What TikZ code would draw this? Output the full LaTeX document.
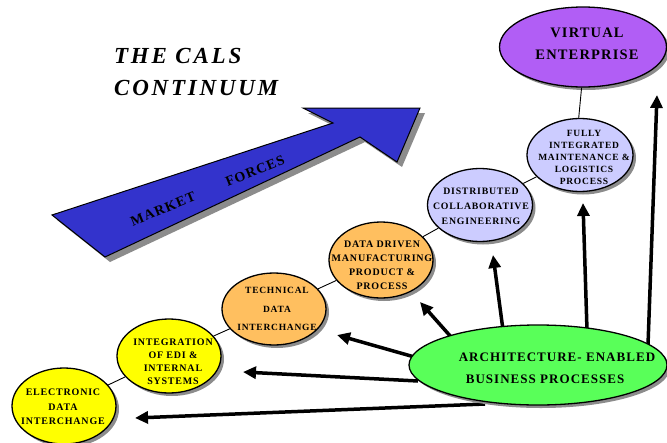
\documentclass[tikz,border=0pt]{standalone}
\usepackage{fontspec}
\setmainfont{Liberation Serif}
\newfontfamily\lsp{Liberation Serif}[LetterSpace=8]
\newfontfamily\tsp{Liberation Serif}[LetterSpace=12]
\usetikzlibrary{shadows,arrows.meta,shapes.geometric}
\definecolor{cyel}{HTML}{FFFF00}
\definecolor{corg}{HTML}{FFBF5F}
\definecolor{clav}{HTML}{CCCCFF}
\definecolor{cpur}{HTML}{B15EF5}
\definecolor{cgrn}{HTML}{59FF59}
\definecolor{cblu}{HTML}{3333CC}
\definecolor{cshd}{HTML}{8C8C8C}
\tikzset{
  bub/.style={ellipse, draw, line width=1.3pt, inner sep=0pt,
    drop shadow={shadow xshift=3pt, shadow yshift=-3pt, fill=cshd, opacity=1}},
  txt/.style={align=center, inner sep=0pt, font=\lsp\bfseries\fontsize{#1}{#1}\selectfont},
  link/.style={line width=0.9pt},
  arr/.style={line width=3.5pt, -{Triangle[length=13pt,width=12pt]}},
  mf/.style={font=\lsp\bfseries\fontsize{14}{14}\selectfont, rotate=22, inner sep=0pt}
}
\begin{document}
\begin{tikzpicture}[x=1pt,y=-1pt]
\useasboundingbox (0,0) rectangle (667,442);
% title
\node[anchor=base west, inner sep=0pt, font=\tsp\bfseries\itshape\fontsize{23}{23}\selectfont] (t1) at (114,63) {THE CALS};
\node[anchor=base west, inner sep=0pt, font=\tsp\bfseries\itshape\fontsize{23}{23}\selectfont] (t2) at (114,95) {CONTINUUM};
% market forces arrow
\fill[cshd, shift={(5,5)}] (52,215) -- (105,257) -- (360,137) -- (397,162) -- (420,108) -- (303,108) -- (333,123) -- cycle;
\draw[fill=cblu, line width=1pt, line join=miter] (52,215) -- (105,257) -- (360,137) -- (397,162) -- (420,108) -- (303,108) -- (333,123) -- cycle;
\node[mf] (mk) at (163,209) {MARKET};
\node[mf] (fc) at (255,171) {FORCES};
% arrows from green ellipse
\coordinate (s1) at (485,404); \coordinate (e1) at (135,418);
\coordinate (s2) at (418,381); \coordinate (e2) at (243,372);
\coordinate (s3) at (418,358); \coordinate (e3) at (337,335);
\coordinate (s4) at (452,338); \coordinate (e4) at (420,302);
\coordinate (s5) at (503,330); \coordinate (e5) at (493,255);
\coordinate (s6) at (587,330); \coordinate (e6) at (583,203);
\coordinate (s7) at (648,345); \coordinate (e7) at (657,95);
\foreach \i in {1,...,7} {\draw[arr] (s\i) -- (e\i);}
% ellipses
\node[bub, fill=cyel, minimum width=104pt, minimum height=76pt] (edi) at (64,406) {};
\node[bub, fill=cyel, minimum width=104pt, minimum height=74pt] (ing) at (169,356) {};
\node[bub, fill=corg, minimum width=104pt, minimum height=72pt] (tdi) at (274,309) {};
\node[bub, fill=corg, minimum width=104pt, minimum height=76pt] (ddm) at (381,260) {};
\node[bub, fill=clav, minimum width=105pt, minimum height=73pt] (dce) at (480,205) {};
\node[bub, fill=clav, minimum width=106pt, minimum height=73pt] (fim) at (580,155) {};
\node[bub, fill=cpur, minimum width=167pt, minimum height=80pt] (ve) at (583,47) {};
\node[bub, fill=cgrn, minimum width=258pt, minimum height=80pt] (abp) at (538,365) {};
% thin links
\draw[link] (edi) -- (ing);
\draw[link] (ing) -- (tdi);
\draw[link] (tdi) -- (ddm);
\draw[link] (ddm) -- (dce);
\draw[link] (dce) -- (fim);
\draw[link] (fim.92) -- (ve.268);
% texts
\node[txt=10, text depth=0pt] (edit) at (63,407) {ELECTRONIC\\[4.5pt]DATA\\[4.5pt]INTERCHANGE};
\node[txt=10] (ingt) at (173,362) {INTEGRATION\\[3pt]OF EDI \&\\[3pt]INTERNAL\\[3pt]SYSTEMS};
\node[txt=9.5] (tdit) at (277,309) {TECHNICAL\\[9pt]DATA\\[9pt]INTERCHANGE};
\node[txt=10] (ddmt) at (382,265) {DATA DRIVEN\\[4pt]MANUFACTURING\\[4pt]PRODUCT \&\\[4pt]PROCESS};
\node[txt=9.8] (dcet) at (481,206) {DISTRIBUTED\\[5pt]COLLABORATIVE\\[5pt]ENGINEERING};
\node[txt=9.5] (fimt) at (584,157) {FULLY\\[2.5pt]INTEGRATED\\[2.5pt]MAINTENANCE \&\\[2.5pt]LOGISTICS\\[2.5pt]PROCESS};
\node[txt=14.5] (vet) at (587,44) {VIRTUAL\\[8pt]ENTERPRISE};
\node[txt=13, align=left] (abpt) at (557,368) {ARCHITECTURE- ENABLED\\[9pt]\hspace*{7pt}BUSINESS PROCESSES};
\end{tikzpicture}
\end{document}
